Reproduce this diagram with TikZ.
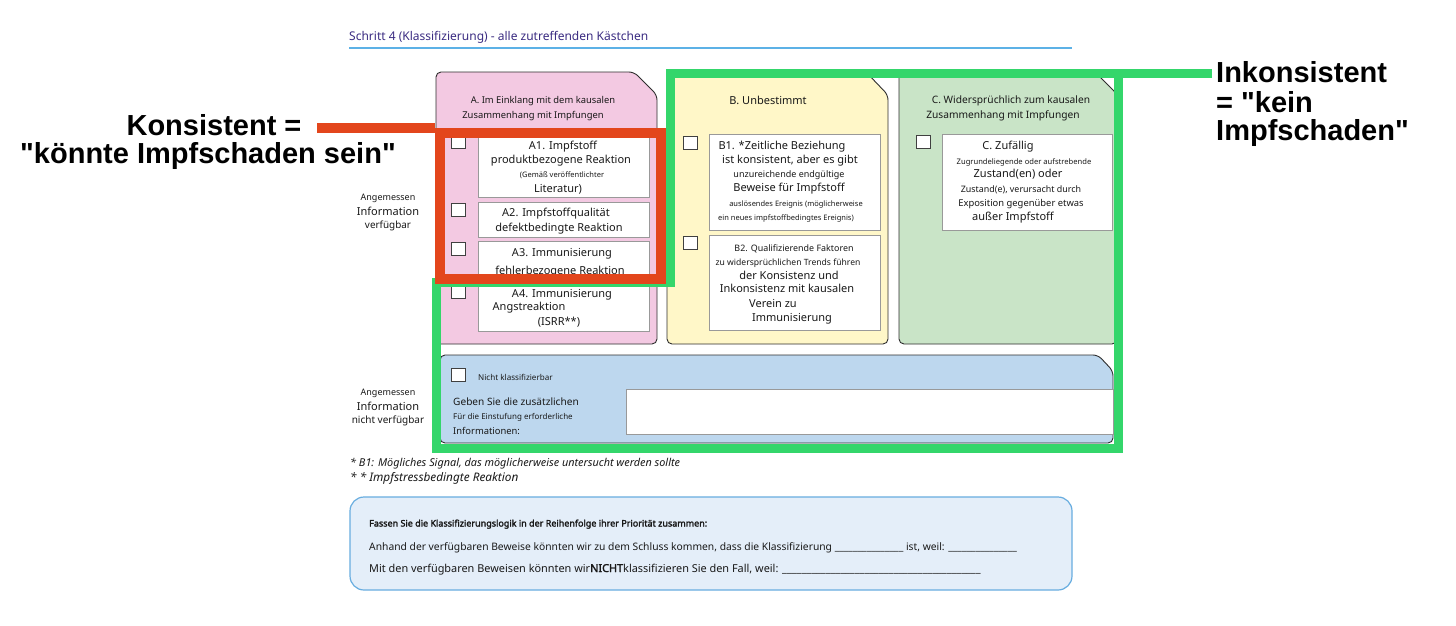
\documentclass[tikz,border=0pt]{standalone}
\usepackage{fontspec}
\setmainfont{Noto Sans}
\newfontfamily\nsb{Noto Sans}[FakeBold=2.2]
\newfontfamily\helv{Liberation Sans}
\newcommand\fs[1]{\fontsize{#1pt}{#1pt}\selectfont}
\newcommand\usc{\_\_\_\_\_}
\definecolor{pinkA}{HTML}{F3C9E2}
\definecolor{yelB}{HTML}{FFF7C8}
\definecolor{grnC}{HTML}{C9E4C7}
\definecolor{bluD}{HTML}{BDD7EE}
\definecolor{sumF}{HTML}{E4EEF9}
\definecolor{sumD}{HTML}{68ADE0}
\definecolor{hdrT}{HTML}{3B2C82}
\definecolor{hdrL}{HTML}{5CB1E6}
\definecolor{redL}{HTML}{E3461C}
\definecolor{grnL}{HTML}{34D66B}
\definecolor{boxL}{HTML}{2E2E2E}
\begin{document}
\begin{tikzpicture}[x=1pt,y=-1pt,
  panel/.style={draw=boxL,line width=0.9pt,rounded corners=5pt},
  wbox/.style={draw=black!40,fill=white,line width=0.7pt},
  chk/.style={draw=black!75,fill=white,line width=0.9pt},
  tc/.style={anchor=base,inner sep=0pt,text=black!90},
  tl/.style={anchor=base west,inner sep=0pt,text=black!90},
  redmark/.style={draw=redL,line width=10pt},
  grnmark/.style={draw=grnL,line width=9pt,line join=miter},
  big/.style={inner sep=0pt,text=black,font=\helv\bfseries\fs{29}},
]
\useasboundingbox (0,0) rectangle (1456,625);
\fill[white] (0,0) rectangle (1456,625);

% header
\node[tl,font=\fs{12},text=hdrT] (hdr) at (349,40) {Schritt 4 (Klassifizierung) - alle zutreffenden Kästchen};
\draw[hdrL,line width=1.5pt] (349,48) -- (1072,48);

% panels
\draw[panel,fill=pinkA] (436,72) -- (634,72) -- (657,95) -- (657,344) -- (436,344) -- cycle;
\draw[panel,fill=yelB] (667,72) -- (866,72) -- (888,95) -- (888,344) -- (667,344) -- cycle;
\draw[panel,fill=grnC] (899,72) -- (1095,72) -- (1117,94) -- (1117,344) -- (899,344) -- cycle;
\draw[panel,fill=bluD] (440,355) -- (1098,355) -- (1113,371) -- (1113,443) -- (440,443) -- cycle;

% white boxes
\draw[wbox] (478,134) rectangle (649,197);
\draw[wbox] (478,202) rectangle (649,237);
\draw[wbox] (478,241) rectangle (649,277);
\draw[wbox] (478,281) rectangle (649,331);
\draw[wbox] (709,134) rectangle (880,230);
\draw[wbox] (709,235) rectangle (880,330);
\draw[wbox] (942,134) rectangle (1112,230);
\draw[wbox] (626,389) rectangle (1113,434);

% checkboxes
\foreach \x/\y in {451/135,451/203,451/242,451/285,683/136,683/236,916/135,451/368}
  \draw[chk] (\x,\y) rectangle +(14,13);

% A texts
\node[tc,font=\fs{9.4}] (ta1) at (543,103) {A. Im Einklang mit dem kausalen};
\node[tc,font=\fs{9.4}] (ta2) at (533,118) {Zusammenhang mit Impfungen};
\node[tc,font=\fs{11}] (a1l1) at (563,149.5) {A1. Impfstoff};
\node[tc,font=\fs{11}] (a1l2) at (561,163.5) {produktbezogene Reaktion};
\node[tc,font=\fs{7.5}] (a1l3) at (562,177.5) {(Gemäß veröffentlichter};
\node[tc,font=\fs{11}] (a1l4) at (558,192.5) {Literatur)};
\node[tc,font=\fs{11}] (a2l1) at (556,216.5) {A2. Impfstoffqualität};
\node[tc,font=\fs{11}] (a2l2) at (559,231.5) {defektbedingte Reaktion};
\node[tc,font=\fs{11}] (a3l1) at (562,256.5) {A3. Immunisierung};
\node[tc,font=\fs{11}] (a3l2) at (560,274.5) {fehlerbezogene Reaktion};
\node[tc,font=\fs{11}] (a4l1) at (562,297.5) {A4. Immunisierung};
\node[tc,font=\fs{11}] (a4l2) at (529,310.5) {Angstreaktion};
\node[tc,font=\fs{11}] (a4l3) at (559,325.5) {(ISRR**)};

% B texts
\node[tc,font=\fs{11}] (tb) at (768,104) {B. Unbestimmt};
\node[tc,font=\fs{11}] (b1l1) at (782,149.5) {B1. *Zeitliche Beziehung};
\node[tc,font=\fs{11}] (b1l2) at (790,163.5) {ist konsistent, aber es gibt};
\node[tc,font=\fs{9}] (b1l3) at (789,177) {unzureichende endgültige};
\node[tc,font=\fs{11}] (b1l4) at (789,191.5) {Beweise für Impfstoff};
\node[tc,font=\fs{7.5}] (b1l5) at (796,206.5) {auslösendes Ereignis (möglicherweise};
\node[tc,font=\fs{7.5}] (b1l6) at (786,220.5) {ein neues impfstoffbedingtes Ereignis)};
\node[tc,font=\fs{8.9}] (b2l1) at (794,251) {B2. Qualifizierende Faktoren};
\node[tc,font=\fs{8.6}] (b2l2) at (788,265) {zu widersprüchlichen Trends führen};
\node[tc,font=\fs{11}] (b2l3) at (789,279.5) {der Konsistenz und};
\node[tc,font=\fs{11}] (b2l4) at (787,292.5) {Inkonsistenz mit kausalen};
\node[tc,font=\fs{11}] (b2l5) at (773,307.5) {Verein zu};
\node[tc,font=\fs{11}] (b2l6) at (792,321.5) {Immunisierung};

% C texts
\node[tc,font=\fs{10.2}] (tc1) at (1011,103.3) {C. Widersprüchlich zum kausalen};
\node[tc,font=\fs{10.2}] (tc2) at (1003,118.3) {Zusammenhang mit Impfungen};
\node[tc,font=\fs{11}] (c1) at (1008,149.5) {C. Zufällig};
\node[tc,font=\fs{7.6}] (c2) at (1024,164.5) {Zugrundeliegende oder aufstrebende};
\node[tc,font=\fs{11}] (c3) at (1018,177.5) {Zustand(en) oder};
\node[tc,font=\fs{8.9}] (c4) at (1021,192) {Zustand(e), verursacht durch};
\node[tc,font=\fs{9.4}] (c5) at (1021,206.2) {Exposition gegenüber etwas};
\node[tc,font=\fs{11}] (c6) at (1013,220.5) {außer Impfstoff};

% left labels
\node[tc,font=\fs{9}] (l1) at (388,200) {Angemessen};
\node[tc,font=\fs{11}] (l2) at (388,215.5) {Information};
\node[tc,font=\fs{9.9}] (l3) at (388,228.3) {verfügbar};
\node[tc,font=\fs{9}] (l4) at (388,395) {Angemessen};
\node[tc,font=\fs{11}] (l5) at (388,410.5) {Information};
\node[tc,font=\fs{10}] (l6) at (388,423.3) {nicht verfügbar};

% blue panel texts
\node[tl,font=\fs{8.1}] (d1) at (478,380) {Nicht klassifizierbar};
\node[tl,font=\fs{10.1}] (d2) at (453,405) {Geben Sie die zusätzlichen};
\node[tl,font=\fs{8}] (d3) at (453,419.5) {Für die Einstufung erforderliche};
\node[tl,font=\fs{9.4}] (d4) at (453,434) {Informationen:};

% footnotes
\node[tl,font=\fs{10.85}\itshape] (f1) at (350,466.5) {* B1: Mögliches Signal, das möglicherweise untersucht werden sollte};
\node[tl,font=\fs{11.8}\itshape] (f2) at (350,481) {* * Impfstressbedingte Reaktion};

% summary
\draw[draw=sumD,fill=sumF,line width=1.2pt,rounded corners=14pt] (350,497) rectangle (1072,590);
\node[tl,font=\nsb\fs{9}] (s1) at (369,526.5) {Fassen Sie die Klassifizierungslogik in der Reihenfolge ihrer Priorität zusammen:};
\node[tl,font=\fs{10.3}] (s2) at (369,550) {Anhand der verfügbaren Beweise könnten wir zu dem Schluss kommen, dass die Klassifizierung \usc\usc\usc{} ist, weil: \usc\usc\usc};
\node[tl,font=\fs{10.9}] (s3) at (369,572) {Mit den verfügbaren Beweisen könnten wir{\nsb NICHT}klassifizieren Sie den Fall, weil: \usc\usc\usc\usc\usc\usc\usc\usc\_};

% green mark
\draw[grnmark] (1212,73) -- (670,73) -- (670,282) -- (436,282) -- (436,448) -- (1118,448) -- (1118,73);

% red mark
\node[draw=redL,line width=10pt,minimum width=221pt,minimum height=146pt,inner sep=0pt,anchor=north west] (redbox) at (435,128) {};
\coordinate (rl) at (317,128);
\draw[redmark] (rl) -- (redbox.north west);

% big labels
\node[big,anchor=base] (k1) at (214,135) {Konsistent =};
\node[big,anchor=base] (k2) at (208,163) {"könnte Impfschaden sein"};
\node[big,anchor=base west] (i1) at (1216,82) {Inkonsistent};
\node[big,anchor=base west] (i2) at (1216,112) {= "kein};
\node[big,anchor=base west] (i3) at (1216,140) {Impfschaden"};
\end{tikzpicture}
\end{document}
